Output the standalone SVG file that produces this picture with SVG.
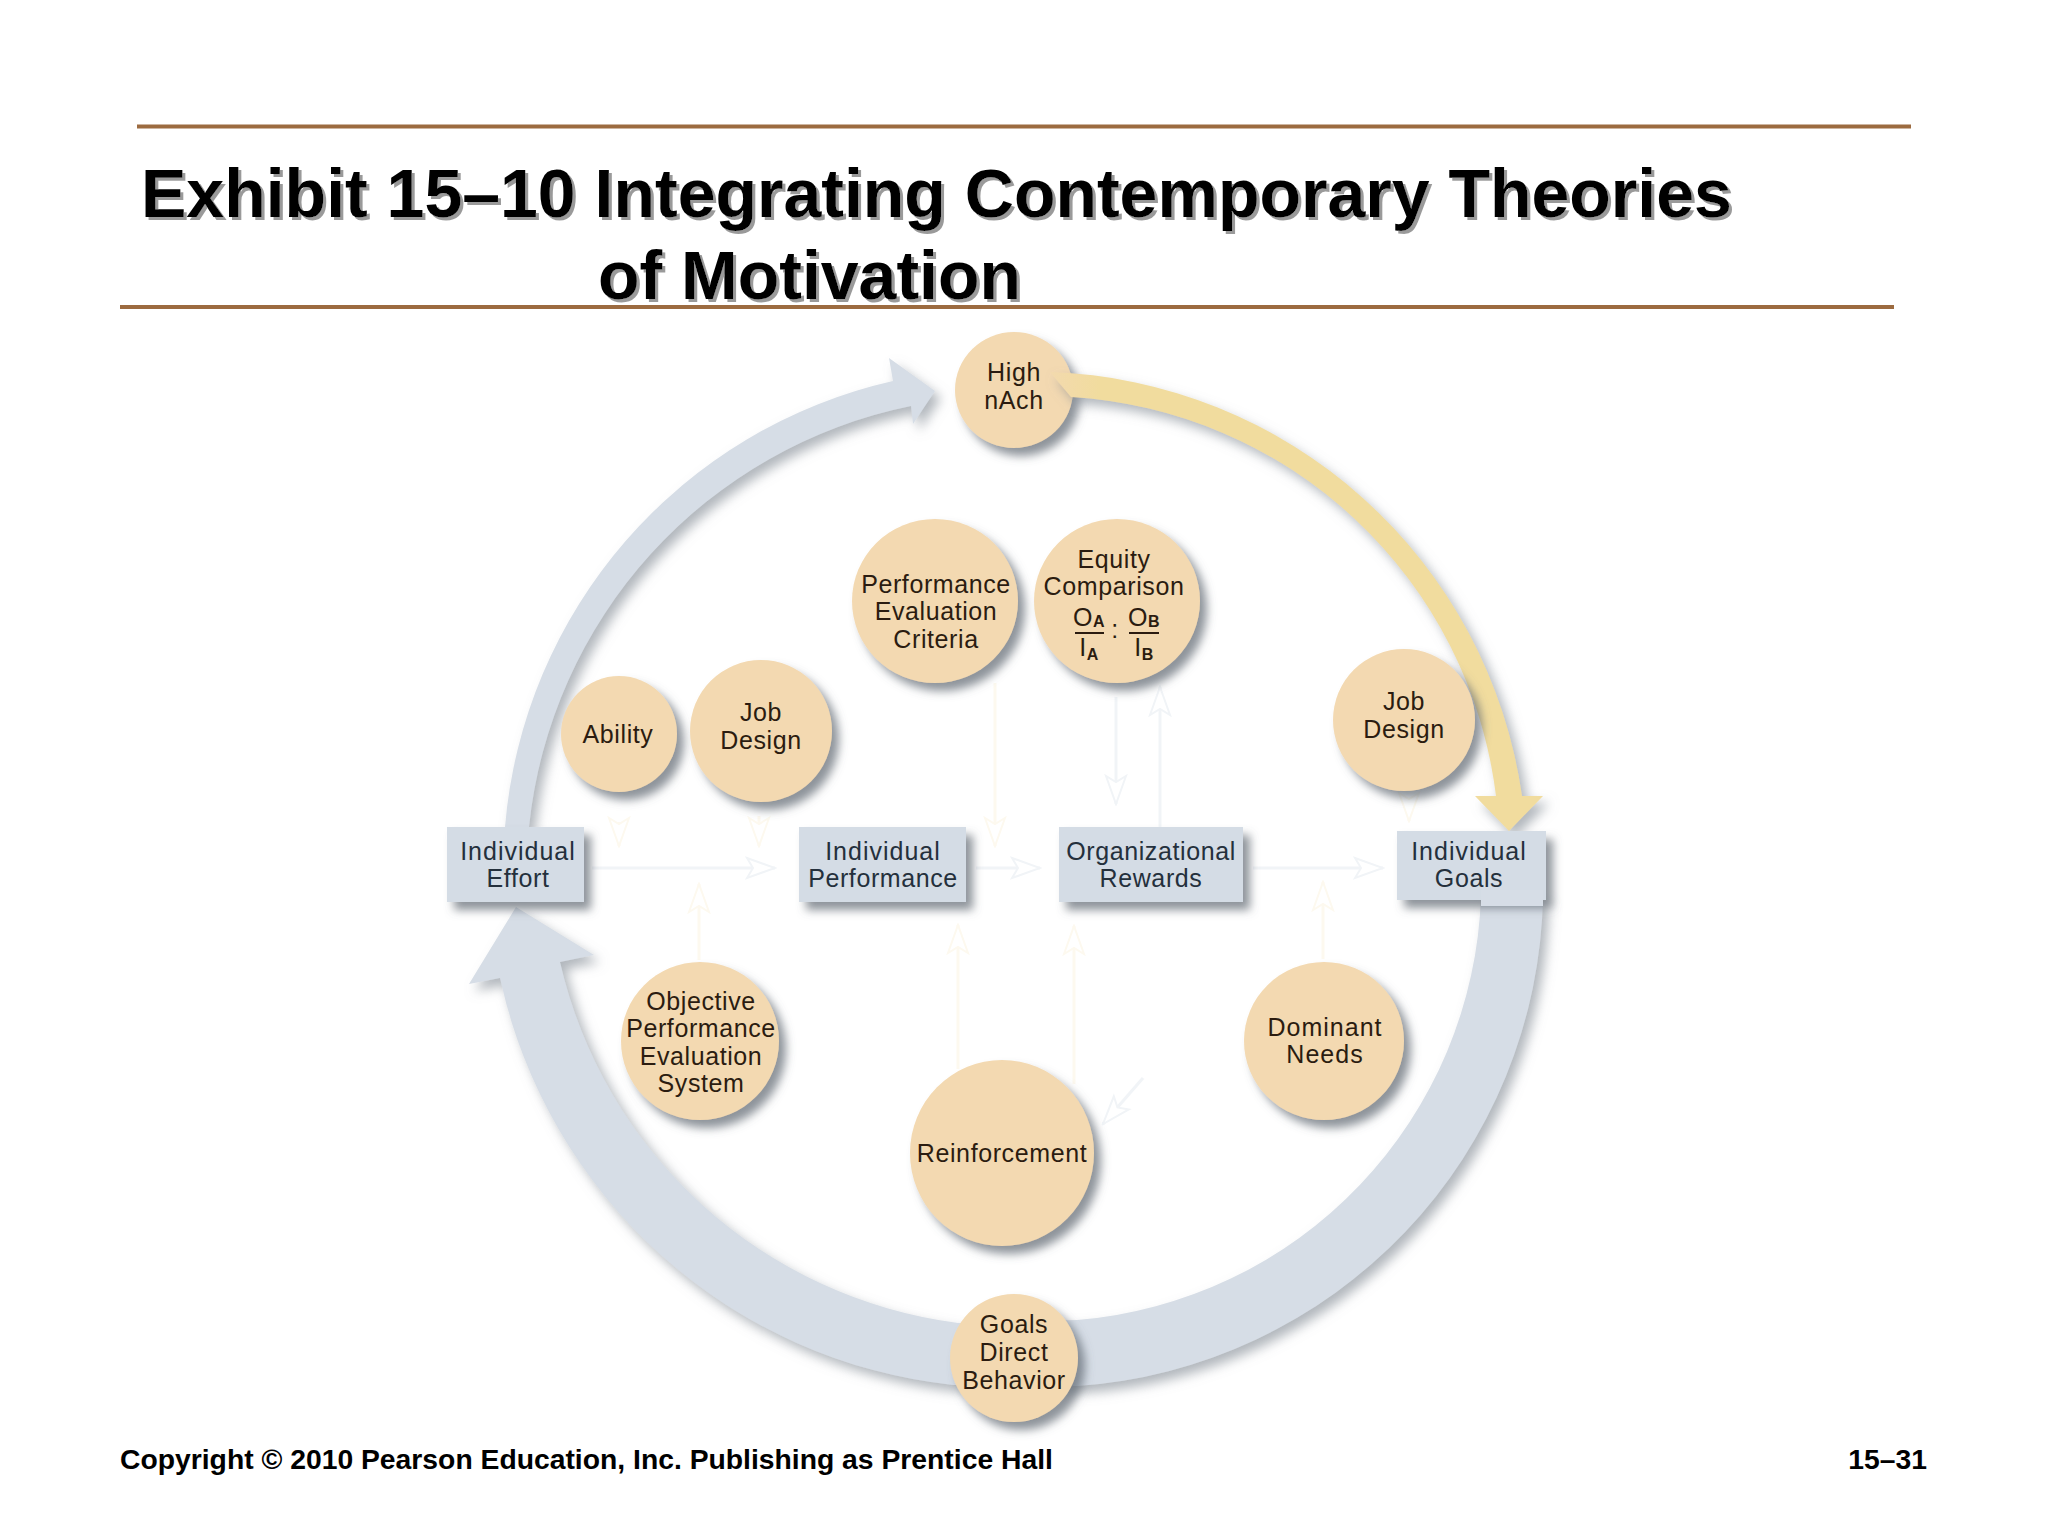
<svg xmlns="http://www.w3.org/2000/svg" width="2048" height="1536" viewBox="0 0 2048 1536">
<style>
.t{font-family:"Liberation Sans",Arial,sans-serif;font-size:25px;letter-spacing:.6px;text-anchor:middle;fill:#2b1c10}
.r{fill:#24303c}
.w{letter-spacing:1px}
.n{fill:#f3d9b1;filter:url(#sh)}
.b{fill:#d4dce5;filter:url(#sh)}
.a{fill:#d6dde6;filter:url(#sh2)}
.rule{stroke:#9c6b40;stroke-width:4}
.title{font-family:"Liberation Sans",Arial,sans-serif;font-weight:700;font-size:68px;fill:#000;filter:url(#ts)}
.foot{font-family:"Liberation Sans",Arial,sans-serif;font-weight:700;font-size:28.300px;fill:#000}
.fb{stroke:#f1f4f7;stroke-width:3;fill:none}
.fy{stroke:#fdf9ef;stroke-width:3;fill:none}
.sub{font-size:16px;font-weight:700}
.bar{stroke:#2b1c10;stroke-width:2}
</style>
<defs>
<filter id="sh" x="-20%" y="-20%" width="150%" height="150%"><feDropShadow dx="7" dy="8" stdDeviation="5" flood-color="#5d6670" flood-opacity=".7"/></filter>
<filter id="sh2" x="-10%" y="-10%" width="125%" height="125%"><feDropShadow dx="6" dy="7" stdDeviation="6" flood-color="#7f8791" flood-opacity=".6"/></filter>
<filter id="ts" x="-2%" y="-10%" width="104%" height="125%"><feDropShadow dx="3" dy="3" stdDeviation=".6" flood-color="#9a9a9a"/></filter>
<linearGradient id="yg" gradientUnits="userSpaceOnUse" x1="1040" y1="385" x2="1100" y2="385"><stop offset="0" stop-color="#f3d9b1"/><stop offset="1" stop-color="#f1dc9e"/></linearGradient>
<marker id="hb" markerUnits="userSpaceOnUse" markerWidth="32" markerHeight="26" refX="30" refY="13" orient="auto"><path d="M2 3 L30 13 L2 23 L8 13 Z" fill="#fff" stroke="#f1f4f7" stroke-width="2"/></marker>
<marker id="hy" markerUnits="userSpaceOnUse" markerWidth="32" markerHeight="26" refX="30" refY="13" orient="auto"><path d="M2 3 L30 13 L2 23 L8 13 Z" fill="#fff" stroke="#fdf9ef" stroke-width="2"/></marker>
</defs>
<rect width="2048" height="1536" fill="#fff"/>
<line class="rule" x1="137" y1="126.500" x2="1911" y2="126.500"/>
<line class="rule" x1="120" y1="307" x2="1894" y2="307"/>
<text class="title" x="141" y="217">Exhibit 15–10 Integrating Contemporary Theories</text>
<text class="title" x="598" y="299">of Motivation</text>
<text class="foot" x="120" y="1469">Copyright © 2010 Pearson Education, Inc. Publishing as Prentice Hall</text>
<text class="foot" x="1927" y="1469" text-anchor="end">15–31</text>

<g id="node-high-nach"><ellipse class="n" cx="1014" cy="390" rx="59" ry="58"/><text class="t" x="1014" y="381">High</text><text class="t" x="1014" y="409">nAch</text></g>

<g id="connectors">
<path class="a" d="M505 827 A500 500 0 0 1 893 381 L889 358 L935 391 L913 424 L911 406 A480 480 0 0 0 529 827 Z"/>
<path class="a" d="M1543 896 A500 500 0 0 1 1077 1386 L953 1385 A520 520 0 0 1 500 978 L469 984 L516 907 L594 955 L560 962 A470 470 0 0 0 958 1323 L1077 1320 A440 440 0 0 0 1481 896 Z"/>
<path d="M1050 372 A494 494 0 0 1 1522 796 L1543 796 L1509 831 L1475 796 L1496 796 A456 456 0 0 0 1071 397 Z" fill="url(#yg)" filter="url(#sh2)"/>
<line class="fb" x1="592" y1="868" x2="775" y2="868" marker-end="url(#hb)"/>
<line class="fb" x1="976" y1="868" x2="1040" y2="868" marker-end="url(#hb)"/>
<line class="fb" x1="1253" y1="868" x2="1383" y2="868" marker-end="url(#hb)"/>
<line class="fy" x1="619" y1="822" x2="619" y2="846" marker-end="url(#hy)"/>
<line class="fy" x1="759" y1="816" x2="759" y2="846" marker-end="url(#hy)"/>
<line class="fy" x1="995" y1="683" x2="995" y2="846" marker-end="url(#hy)"/>
<line class="fb" x1="1116" y1="697" x2="1116" y2="804" marker-end="url(#hb)"/>
<line class="fb" x1="1160" y1="827" x2="1160" y2="687" marker-end="url(#hb)"/>
<line class="fy" x1="1409" y1="800" x2="1409" y2="821" marker-end="url(#hy)"/>
<line class="fy" x1="699" y1="960" x2="699" y2="884" marker-end="url(#hy)"/>
<line class="fy" x1="958" y1="1069" x2="958" y2="925" marker-end="url(#hy)"/>
<line class="fy" x1="1074" y1="1084" x2="1074" y2="926" marker-end="url(#hy)"/>
<line class="fb" x1="1143" y1="1078" x2="1103" y2="1124" marker-end="url(#hb)"/>
<line class="fy" x1="1323" y1="959" x2="1323" y2="882" marker-end="url(#hy)"/>
</g>

<g id="node-perf-criteria"><ellipse class="n" cx="935" cy="601" rx="83" ry="82"/><text class="t" x="936" y="593">Performance</text><text class="t" x="936" y="620">Evaluation</text><text class="t" x="936" y="648">Criteria</text></g>
<g id="node-equity"><ellipse class="n" cx="1117" cy="601" rx="83" ry="82"/><text class="t" x="1114" y="568">Equity</text><text class="t" x="1114" y="595">Comparison</text>
<text class="t" x="1089" y="626">O<tspan class="sub" dy="1">A</tspan></text><line class="bar" x1="1075" y1="633" x2="1104" y2="633"/><text class="t" x="1089" y="656">I<tspan class="sub" dy="4">A</tspan></text>
<text class="t" x="1115" y="638">:</text>
<text class="t" x="1144" y="626">O<tspan class="sub" dy="1">B</tspan></text><line class="bar" x1="1129" y1="633" x2="1159" y2="633"/><text class="t" x="1144" y="656">I<tspan class="sub" dy="4">B</tspan></text></g>
<g id="node-ability"><ellipse class="n" cx="619" cy="734" rx="58" ry="58"/><text class="t" x="618" y="743">Ability</text></g>
<g id="node-job-design-1"><ellipse class="n" cx="761" cy="731" rx="71" ry="71"/><text class="t" x="761" y="721">Job</text><text class="t" x="761" y="749">Design</text></g>
<g id="node-job-design-2"><ellipse class="n" cx="1404" cy="720" rx="71" ry="71"/><text class="t" x="1404" y="710">Job</text><text class="t" x="1404" y="738">Design</text></g>
<g id="node-objective"><ellipse class="n" cx="700" cy="1041" rx="79" ry="79"/><text class="t" x="701" y="1010">Objective</text><text class="t" x="701" y="1037">Performance</text><text class="t" x="701" y="1065">Evaluation</text><text class="t" x="701" y="1092">System</text></g>
<g id="node-dominant"><ellipse class="n" cx="1324" cy="1041" rx="80" ry="79"/><text class="t w" x="1325" y="1036">Dominant</text><text class="t w" x="1325" y="1063">Needs</text></g>
<g id="node-reinforcement"><ellipse class="n" cx="1002" cy="1153" rx="92" ry="93"/><text class="t" x="1002" y="1162">Reinforcement</text></g>
<g id="node-goals-direct"><ellipse class="n" cx="1014" cy="1358" rx="64" ry="64"/><text class="t" x="1014" y="1333">Goals</text><text class="t" x="1014" y="1361">Direct</text><text class="t" x="1014" y="1389">Behavior</text></g>
<g id="node-individual-effort"><rect class="b" x="447" y="827" width="137" height="75"/><text class="t r w" x="518" y="860">Individual</text><text class="t r" x="518" y="887">Effort</text></g>
<g id="node-individual-performance"><rect class="b" x="799" y="827" width="167" height="75"/><text class="t r w" x="883" y="860">Individual</text><text class="t r" x="883" y="887">Performance</text></g>
<g id="node-organizational-rewards"><rect class="b" x="1059" y="827" width="184" height="75"/><text class="t r" x="1151" y="860">Organizational</text><text class="t r" x="1151" y="887">Rewards</text></g>
<g id="node-individual-goals"><rect class="b" x="1397" y="831" width="149" height="69"/><path d="M1481 890 H1543 V906 H1481 Z" fill="#d6dde6"/><text class="t r w" x="1469" y="860">Individual</text><text class="t r" x="1469" y="887">Goals</text></g>
</svg>
